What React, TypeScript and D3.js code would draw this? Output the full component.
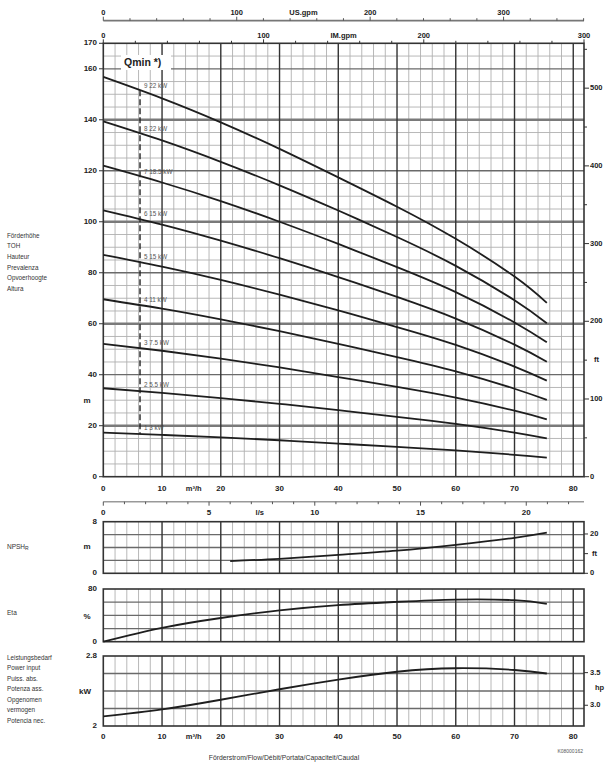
import { useEffect, useRef } from 'react';
import * as d3 from 'd3';

// Pump curve sheet - head per stage count, NPSH, efficiency, power per stage
const W = 605;
const H = 762;

// flow points (m³/h) the head curves were read at
const flowPts = [0, 10, 20, 30, 40, 50, 60, 70, 75.5];
const head1 = [17.3, 16.4, 15.4, 14.3, 13.0, 11.7, 10.3, 8.6, 7.5];
const head2 = [34.7, 32.9, 30.8, 28.6, 26.1, 23.5, 20.7, 17.3, 15.0];
const head3 = [52.1, 49.4, 46.3, 42.9, 39.1, 35.2, 31.0, 25.9, 22.5];
const head4 = [69.6, 65.9, 61.7, 57.1, 52.1, 46.9, 41.3, 34.5, 30.1];
const head5 = [87.0, 82.4, 77.2, 71.4, 65.2, 58.7, 51.7, 43.2, 37.7];
const head6 = [104.5, 98.9, 92.6, 85.7, 78.3, 70.5, 62.0, 51.8, 45.1];
const head7 = [122.0, 115.4, 108.1, 100.0, 91.3, 82.2, 72.4, 60.5, 52.7];
const head8 = [139.4, 131.9, 123.5, 114.3, 104.4, 94.0, 82.7, 69.2, 60.2];
const head9 = [156.8, 148.4, 139.0, 128.6, 117.4, 105.9, 93.3, 78.5, 68.2];
const headCurves = [head1, head2, head3, head4, head5, head6, head7, head8, head9];
const stageLabels = ['1  3 kW', '2  5.5 kW', '3  7.5 kW', '4  11 kW', '5  15 kW', '6  15 kW', '7  18.5 kW', '8  22 kW', '9  22 kW'];
const qMin = 6.25;

const npshFlow = [21.6, 30, 40, 50, 60, 70, 75.5];
const npshVals = [1.9, 2.25, 2.85, 3.5, 4.4, 5.5, 6.3];

const etaFlow = [0, 10, 20, 30, 40, 50, 60, 70, 75.5];
const etaVals = [0, 21, 36, 47.5, 55.5, 60.5, 64, 63, 57.5];

const powerFlow = [0, 10, 20, 30, 40, 50, 60, 70, 75.5];
const powerVals = [2.11, 2.19, 2.3, 2.42, 2.53, 2.62, 2.66, 2.64, 2.6];

// tick labels
const flowTicks = [0, 10, 20, 30, 40, 50, 60, 70, 80];
const headTicks = [0, 20, 40, 60, 80, 100, 120, 140, 160, 170];
const ftTicks = [0, 100, 200, 300, 400, 500];
const usGpmTicks = [0, 100, 200, 300];
const imGpmTicks = [0, 100, 200, 300];
const lsTicks = [0, 5, 10, 15, 20];
const tohLabels = ['Förderhöhe', 'TOH', 'Hauteur', 'Prevalenza', 'Opvoerhoogte', 'Altura'];
const powerLabels = ['Leistungsbedarf', 'Power input', 'Puiss. abs.', 'Potenza ass.', 'Opgenomen', 'vermogen', 'Potencia nec.'];

// unit conversions to m³/h, m, kW
const US_GPM = 0.2271247;
const IM_GPM = 0.2727654;
const LS = 3.6;
const FT = 0.3048;
const HP = 0.7457;

const FONT = "'Liberation Sans', Arial, sans-serif";

const App = () => {
    const svgRef = useRef<SVGSVGElement | null>(null);

    useEffect(() => {
        const svg = d3.select(svgRef.current);
        svg.selectAll('*').remove();

        const xMax = 300 * IM_GPM;
        const x = d3.scaleLinear().domain([0, xMax]).range([103.3, 584]);
        const yH = d3.scaleLinear().domain([0, 170]).range([476.7, 43.3]);
        const yN = d3.scaleLinear().domain([0, 8]).range([573.3, 521.7]);
        const yE = d3.scaleLinear().domain([0, 80]).range([641.7, 589]);
        const yP = d3.scaleLinear().domain([2, 2.8]).range([726, 656]);

        svg.append('rect').attr('width', W).attr('height', H).attr('fill', '#fff');

        const txt = (t: string, px: number, py: number, opts: any = {}) =>
            svg.append('text')
                .attr('x', px)
                .attr('y', py)
                .attr('text-anchor', opts.anchor || 'start')
                .attr('dominant-baseline', 'middle')
                .attr('fill', opts.fill || '#222')
                .style('font-family', FONT)
                .style('font-size', `${opts.size || 8}px`)
                .style('font-weight', opts.bold ? '700' : '400')
                .text(t);

        // grid + frame for one panel
        const panel = (y: d3.ScaleLinear<number, number>, minor: number[], mid: number[], thick: number[]) => {
            const g = svg.append('g');
            const [y0, y1] = y.range();
            d3.range(0, xMax, 2).filter(v => v % 10 !== 0).forEach(v => {
                g.append('line').attr('x1', x(v)).attr('x2', x(v)).attr('y1', y0).attr('y2', y1)
                    .attr('stroke', '#b0b0b0').attr('stroke-width', 0.9);
            });
            minor.forEach(v => {
                g.append('line').attr('x1', x(0)).attr('x2', x(xMax)).attr('y1', y(v)).attr('y2', y(v))
                    .attr('stroke', '#b0b0b0').attr('stroke-width', 0.9);
            });
            mid.forEach(v => {
                g.append('line').attr('x1', x(0)).attr('x2', x(xMax)).attr('y1', y(v)).attr('y2', y(v))
                    .attr('stroke', '#6a6a6a').attr('stroke-width', 1.3);
            });
            thick.forEach(v => {
                g.append('line').attr('x1', x(0)).attr('x2', x(xMax)).attr('y1', y(v)).attr('y2', y(v))
                    .attr('stroke', '#7a7a7a').attr('stroke-width', 2.4);
            });
            d3.range(10, xMax, 10).forEach(v => {
                g.append('line').attr('x1', x(v)).attr('x2', x(v)).attr('y1', y0).attr('y2', y1)
                    .attr('stroke', '#333').attr('stroke-width', 1.4);
            });
            g.append('rect')
                .attr('x', x(0)).attr('y', y1)
                .attr('width', x(xMax) - x(0)).attr('height', y0 - y1)
                .attr('fill', 'none').attr('stroke', '#333').attr('stroke-width', 1.6);
        };

        const curveLine = (y: d3.ScaleLinear<number, number>, xs: number[], ys: number[], w = 1.8) => {
            const line = d3.line<number>()
                .x((_, i) => x(xs[i]))
                .y(d => y(d))
                .curve(d3.curveNatural);
            svg.append('path').attr('d', line(ys) || '')
                .attr('fill', 'none').attr('stroke', '#1e1e1e').attr('stroke-width', w);
        };

        // ---------- main head chart ----------
        panel(yH, d3.range(5, 170, 5).filter(v => v % 20 !== 0), [40, 80, 120, 160], [20, 60, 100, 140]);

        // Qmin label box
        svg.append('rect').attr('x', 121).attr('y', 55).attr('width', 50).attr('height', 15).attr('fill', '#fff');
        txt('Qmin *)', 124, 63, { size: 10.5, bold: true });

        // Qmin dashed line from top curve to bottom curve
        const at = (ys: number[], q: number) => d3.scaleLinear().domain(flowPts).range(ys)(q);
        svg.append('line')
            .attr('x1', x(qMin)).attr('x2', x(qMin))
            .attr('y1', yH(at(head9, qMin))).attr('y2', yH(at(head1, qMin)))
            .attr('stroke', '#222').attr('stroke-width', 1.4).attr('stroke-dasharray', '6,3');

        headCurves.forEach((c, i) => {
            curveLine(yH, flowPts, c);
            txt(stageLabels[i], x(qMin) + 4, yH(at(c, qMin + 1)) - 6, { size: 6.3, fill: '#555' });
        });

        // left head axis
        headTicks.forEach(v => {
            txt(String(v), 97, yH(v), { anchor: 'end', bold: true });
            svg.append('line').attr('x1', 99).attr('x2', x(0)).attr('y1', yH(v)).attr('y2', yH(v))
                .attr('stroke', '#333').attr('stroke-width', 1);
        });
        txt('m', 87, 401, { anchor: 'middle', bold: true });
        tohLabels.forEach((t, i) => txt(t, 7, 236 + i * 10.7, { size: 6.3, fill: '#333' }));

        // right ft axis
        d3.range(0, 170 / FT, 50).forEach(v => {
            svg.append('line').attr('x1', x(xMax)).attr('x2', x(xMax) + (v % 100 === 0 ? 5 : 3))
                .attr('y1', yH(v * FT)).attr('y2', yH(v * FT)).attr('stroke', '#333').attr('stroke-width', 1);
        });
        ftTicks.forEach(v => txt(String(v), 590, yH(v * FT), { bold: true, size: 7.5 }));
        txt('ft', 594, 360, { bold: true, size: 7.5 });

        // top IM gpm ticks on plot frame
        d3.range(0, 301, 20).forEach(v => {
            svg.append('line').attr('x1', x(v * IM_GPM)).attr('x2', x(v * IM_GPM))
                .attr('y1', yH(170)).attr('y2', yH(170) - (v % 100 === 0 ? 4 : 2.5))
                .attr('stroke', '#333').attr('stroke-width', 1);
        });
        imGpmTicks.forEach(v => txt(String(v), x(v * IM_GPM), 36, { anchor: 'middle', bold: true, size: 7.5 }));
        txt('IM.gpm', x(150 * IM_GPM), 36, { anchor: 'middle', bold: true, size: 7.5 });

        // US gpm axis at very top
        svg.append('line').attr('x1', x(0)).attr('x2', x(xMax)).attr('y1', 20.7).attr('y2', 20.7)
            .attr('stroke', '#777').attr('stroke-width', 1.8);
        d3.range(0, 300 * IM_GPM / US_GPM, 20).forEach(v => {
            svg.append('line').attr('x1', x(v * US_GPM)).attr('x2', x(v * US_GPM))
                .attr('y1', 20.7).attr('y2', 20.7 - (v % 100 === 0 ? 4 : 2.5))
                .attr('stroke', '#555').attr('stroke-width', 1);
        });
        usGpmTicks.forEach(v => txt(String(v), x(v * US_GPM), 12.7, { anchor: 'middle', bold: true, size: 7.5 }));
        txt('US.gpm', x(150 * US_GPM), 12.7, { anchor: 'middle', bold: true, size: 7.5 });

        // flow labels under main chart
        flowTicks.forEach(v => txt(String(v), x(v), 489, { anchor: 'middle', bold: true }));
        txt('m³/h', x(15.4), 489, { anchor: 'middle', bold: true, size: 7.5 });

        // l/s axis
        svg.append('line').attr('x1', x(0)).attr('x2', x(xMax)).attr('y1', 501.7).attr('y2', 501.7)
            .attr('stroke', '#999').attr('stroke-width', 1.6);
        d3.range(0, xMax / LS, 1).forEach(v => {
            svg.append('line').attr('x1', x(v * LS)).attr('x2', x(v * LS))
                .attr('y1', 501.7).attr('y2', 501.7 + (v % 5 === 0 ? 4 : 2.5))
                .attr('stroke', '#555').attr('stroke-width', 1);
        });
        lsTicks.forEach(v => txt(String(v), x(v * LS), 512.7, { anchor: 'middle', bold: true }));
        txt('l/s', x(7.4 * LS), 512.7, { anchor: 'middle', bold: true, size: 7.5 });

        // ---------- NPSH panel ----------
        panel(yN, [], [2, 4, 6], []);
        curveLine(yN, npshFlow, npshVals);
        txt('8', 97, yN(8), { anchor: 'end', bold: true });
        txt('0', 97, yN(0), { anchor: 'end', bold: true });
        txt('m', 87, 547, { anchor: 'middle', bold: true });
        const npshLabel = svg.append('text').attr('x', 7).attr('y', 547).attr('dominant-baseline', 'middle')
            .attr('fill', '#333').style('font-family', FONT).style('font-size', '6.5px');
        npshLabel.append('tspan').text('NPSH');
        npshLabel.append('tspan').attr('dy', 2).style('font-size', '5px').text('R');
        [0, 10, 20].forEach(v => {
            svg.append('line').attr('x1', x(xMax)).attr('x2', x(xMax) + 4)
                .attr('y1', yN(v * FT)).attr('y2', yN(v * FT)).attr('stroke', '#333').attr('stroke-width', 1);
        });
        txt('20', 590, yN(20 * FT), { bold: true, size: 7.5 });
        txt('ft', 592, yN(10 * FT), { bold: true, size: 7.5 });
        txt('0', 590, yN(0), { bold: true, size: 7.5 });

        // ---------- Eta panel ----------
        panel(yE, [], [20, 40, 60], []);
        curveLine(yE, etaFlow, etaVals);
        txt('80', 97, yE(80), { anchor: 'end', bold: true });
        txt('0', 97, yE(0), { anchor: 'end', bold: true });
        txt('%', 87, 616.7, { anchor: 'middle', bold: true });
        txt('Eta', 7, 613, { size: 6.5, fill: '#333' });

        // ---------- power panel ----------
        panel(yP, [], [2.2, 2.4, 2.6], []);
        curveLine(yP, powerFlow, powerVals);
        txt('2.8', 97, yP(2.8), { anchor: 'end', bold: true });
        txt('2', 97, yP(2), { anchor: 'end', bold: true });
        txt('kW', 85, 691.7, { anchor: 'middle', bold: true });
        powerLabels.forEach((t, i) => txt(t, 7, 658 + i * 10.5, { size: 6.3, fill: '#333' }));
        [3.0, 3.5].forEach(v => {
            svg.append('line').attr('x1', x(xMax)).attr('x2', x(xMax) + 4)
                .attr('y1', yP(v * HP)).attr('y2', yP(v * HP)).attr('stroke', '#333').attr('stroke-width', 1);
        });
        txt('3.5', 590, yP(3.5 * HP), { bold: true, size: 7.5 });
        txt('hp', 595, 688, { bold: true, size: 7.5 });
        txt('3.0', 590, yP(3.0 * HP), { bold: true, size: 7.5 });

        flowTicks.forEach(v => txt(String(v), x(v), 737, { anchor: 'middle', bold: true }));
        txt('m³/h', x(15.4), 737, { anchor: 'middle', bold: true, size: 7.5 });

        txt('Förderstrom/Flow/Débit/Portata/Capaciteit/Caudal', 284, 758, { anchor: 'middle', size: 6.8, fill: '#333' });
        txt('K08000162', 583, 751.5, { anchor: 'end', size: 5, fill: '#555' });
    }, []);

    return (
        <svg ref={svgRef} width={W} height={H}
            style={{ position: 'absolute', left: 0, top: 0, display: 'block' }} />
    );
};

export default App;
